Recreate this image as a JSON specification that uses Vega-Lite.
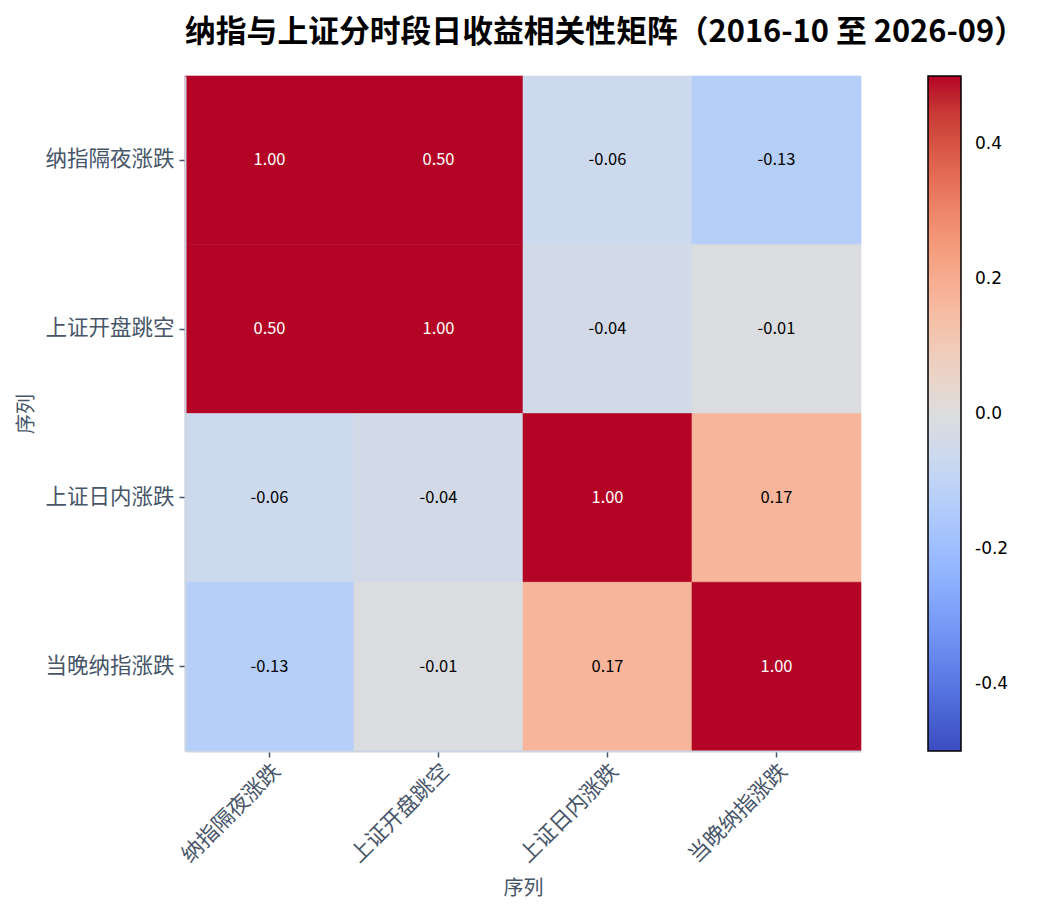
{
  "$schema": "https://vega.github.io/schema/vega-lite/v6.json",
  "width": 676,
  "height": 675,
  "autosize": {"type": "none"},
  "padding": {"left": 185, "top": 76, "right": 181, "bottom": 164},
  "background": "#ffffff",
  "view": {"stroke": null},
  "title": {
    "text": "纳指与上证分时段日收益相关性矩阵（2016-10 至 2026-09）",
    "anchor": "start",
    "frame": "group",
    "font": "Noto Sans CJK SC",
    "fontSize": 30.8,
    "fontWeight": "bold",
    "color": "#000000",
    "offset": 27
  },
  "data": {
    "values": [
      {"row": "纳指隔夜涨跌", "col": "纳指隔夜涨跌", "value": 1.0},
      {"row": "纳指隔夜涨跌", "col": "上证开盘跳空", "value": 0.5},
      {"row": "纳指隔夜涨跌", "col": "上证日内涨跌", "value": -0.06},
      {"row": "纳指隔夜涨跌", "col": "当晚纳指涨跌", "value": -0.13},
      {"row": "上证开盘跳空", "col": "纳指隔夜涨跌", "value": 0.5},
      {"row": "上证开盘跳空", "col": "上证开盘跳空", "value": 1.0},
      {"row": "上证开盘跳空", "col": "上证日内涨跌", "value": -0.04},
      {"row": "上证开盘跳空", "col": "当晚纳指涨跌", "value": -0.01},
      {"row": "上证日内涨跌", "col": "纳指隔夜涨跌", "value": -0.06},
      {"row": "上证日内涨跌", "col": "上证开盘跳空", "value": -0.04},
      {"row": "上证日内涨跌", "col": "上证日内涨跌", "value": 1.0},
      {"row": "上证日内涨跌", "col": "当晚纳指涨跌", "value": 0.17},
      {"row": "当晚纳指涨跌", "col": "纳指隔夜涨跌", "value": -0.13},
      {"row": "当晚纳指涨跌", "col": "上证开盘跳空", "value": -0.01},
      {"row": "当晚纳指涨跌", "col": "上证日内涨跌", "value": 0.17},
      {"row": "当晚纳指涨跌", "col": "当晚纳指涨跌", "value": 1.0}
    ]
  },
  "encoding": {
    "x": {
      "field": "col",
      "type": "nominal",
      "sort": ["纳指隔夜涨跌", "上证开盘跳空", "上证日内涨跌", "当晚纳指涨跌"],
      "scale": {"paddingInner": 0, "paddingOuter": 0},
      "axis": {
        "title": "序列",
        "titleFont": "Noto Sans CJK SC",
        "titleFontSize": 20,
        "titleFontWeight": "normal",
        "titleColor": "#475569",
        "titlePadding": 12,
        "labelFont": "Noto Sans CJK SC",
        "labelFontSize": 21.5,
        "labelColor": "#475569",
        "labelAngle": -45,
        "labelAlign": "right",
        "labelBaseline": "top",
        "labelPadding": 3,
        "tickColor": "#475569",
        "tickSize": 6,
        "tickWidth": 1.5,
        "domainColor": "#cbd5e1",
        "domainWidth": 2
      }
    },
    "y": {
      "field": "row",
      "type": "nominal",
      "sort": ["纳指隔夜涨跌", "上证开盘跳空", "上证日内涨跌", "当晚纳指涨跌"],
      "scale": {"paddingInner": 0, "paddingOuter": 0},
      "axis": {
        "title": "序列",
        "titleFont": "Noto Sans CJK SC",
        "titleFontSize": 20,
        "titleFontWeight": "normal",
        "titleColor": "#475569",
        "titlePadding": 8,
        "labelFont": "Noto Sans CJK SC",
        "labelFontSize": 21.5,
        "labelColor": "#475569",
        "labelPadding": 5,
        "tickColor": "#475569",
        "tickSize": 6,
        "tickWidth": 1.5,
        "domainColor": "#cbd5e1",
        "domainWidth": 2
      }
    }
  },
  "resolve": {"legend": {"stroke": "independent"}},
  "layer": [
    {
      "mark": {"type": "rect", "strokeWidth": 0.6},
      "encoding": {
        "color": {
          "field": "value",
          "type": "quantitative",
          "scale": {
            "type": "linear",
            "clamp": true,
            "domain": [-0.5, -0.4375, -0.375, -0.3125, -0.25, -0.1875, -0.125, -0.0625, 0, 0.0625, 0.125, 0.1875, 0.25, 0.3125, 0.375, 0.4375, 0.5],
            "range": ["#3b4cc0", "#4d68d7", "#6282ea", "#779af7", "#8db0fe", "#a3c2ff", "#b8d0f9", "#ccd9ee", "#dddddd", "#ecd3c5", "#f5c4ad", "#f7b194", "#f49a7b", "#ec7f63", "#de604d", "#cb3e38", "#b40426"]
          },
          "legend": {
            "title": null,
            "orient": "right",
            "offset": 67,
            "padding": 0,
            "gradientLength": 675,
            "gradientThickness": 33,
            "gradientStrokeColor": "#000000",
            "gradientStrokeWidth": 1.5,
            "values": [-0.4, -0.2, 0, 0.2, 0.4],
            "format": ".1f",
            "labelExpr": "replace(datum.label, '−', '-')",
            "labelFont": "DejaVu Sans",
            "labelFontSize": 17,
            "labelColor": "#000000",
            "labelOffset": 14,
            "labelOverlap": false
          }
        },
        "stroke": {
          "field": "value",
          "type": "quantitative",
          "legend": null,
          "scale": {
            "type": "linear",
            "clamp": true,
            "domain": [-0.5, -0.4375, -0.375, -0.3125, -0.25, -0.1875, -0.125, -0.0625, 0, 0.0625, 0.125, 0.1875, 0.25, 0.3125, 0.375, 0.4375, 0.5],
            "range": ["#3b4cc0", "#4d68d7", "#6282ea", "#779af7", "#8db0fe", "#a3c2ff", "#b8d0f9", "#ccd9ee", "#dddddd", "#ecd3c5", "#f5c4ad", "#f7b194", "#f49a7b", "#ec7f63", "#de604d", "#cb3e38", "#b40426"]
          }
        }
      }
    },
    {
      "mark": {
        "type": "text",
        "font": "Noto Sans CJK SC",
        "fontSize": 16.5,
        "text": {"expr": "replace(format(datum.value, '.2f'), '−', '-')"}
      },
      "encoding": {
        "color": {
          "condition": {"test": "datum.value >= 0.5", "value": "#ffffff"},
          "value": "#000000"
        }
      }
    }
  ]
}
